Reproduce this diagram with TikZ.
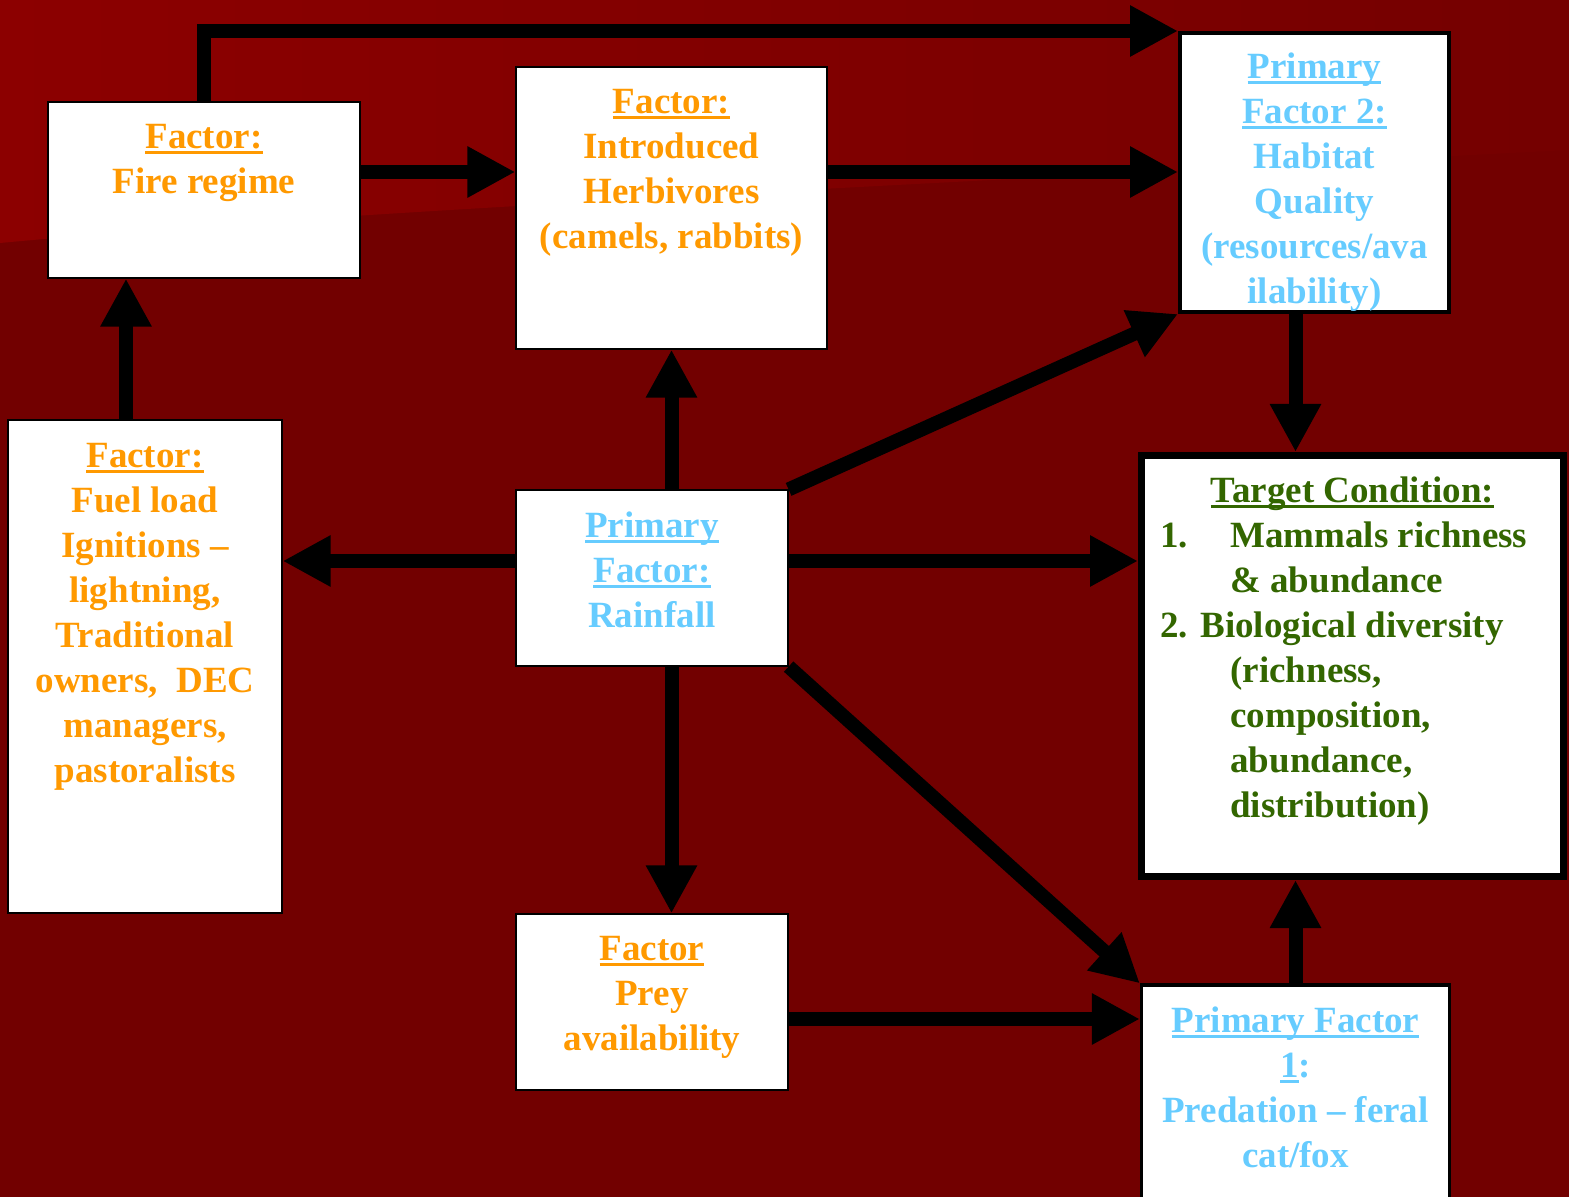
\documentclass[tikz,border=0pt]{standalone}
\usepackage{fontspec}
\setmainfont{Liberation Serif}
\usepackage{tikz}
\usetikzlibrary{arrows.meta, positioning}
\definecolor{bgred}{RGB}{114,0,0}
\definecolor{bglight}{RGB}{140,0,0}
\definecolor{factororange}{RGB}{255,153,0}
\definecolor{primaryblue}{RGB}{102,204,255}
\definecolor{targetgreen}{RGB}{51,102,0}
\newsavebox\ulbox
\newcommand{\ulin}[1]{\leavevmode\sbox\ulbox{#1}\rlap{\rule[-3pt]{\wd\ulbox}{1.5pt}}\usebox\ulbox}

\begin{document}
\begin{tikzpicture}[
    x=0.5pt, y=-0.5pt,
    box/.style={
      draw=black,
      fill=white,
      line width=0.6pt,
      inner sep=0pt
    },
    txt/.style={
      inner sep=0pt,
      align=center,
      font=\fontsize{18.5}{22.5}\selectfont\bfseries
    },
    factortxt/.style={txt, text=factororange},
    primarytxt/.style={txt, text=primaryblue},
    arr/.style={line width=7pt, -{Triangle[length=24pt, width=24pt]}}
  ]
    % background
    \fill[bgred] (0,0) rectangle (1569,1197);
    \shade[left color=bglight, right color=bgred!90!bglight]
      (0,0) -- (1569,0) -- (1569,150) .. controls (700,195) and (300,215) .. (0,243) -- cycle;
    \useasboundingbox (0,0) rectangle (1569,1197);

    % boxes
    \node[box, minimum width=156pt, minimum height=88pt] (fire) at (204,190) {};
    \node[box, minimum width=155.5pt, minimum height=141pt] (herb) at (671.5,208) {};
    \node[box, line width=2pt, minimum width=134.5pt, minimum height=139.5pt] (hab) at (1314.5,172.5) {};
    \node[box, minimum width=137pt, minimum height=246.5pt] (fuel) at (145,666.5) {};
    \node[box, minimum width=136pt, minimum height=88pt] (rain) at (652,578) {};
    \node[box, line width=3.5pt, minimum width=211pt, minimum height=210.5pt] (target) at (1352.5,666) {};
    \node[box, minimum width=136pt, minimum height=88pt] (prey) at (652,1002) {};
    \node[box, line width=1.6pt, minimum width=154pt, minimum height=108pt] (pred) at (1295.5,1093) {};

    % texts
    \node[factortxt, below=11pt of fire.north] (fire-t) {\ulin{Factor:}\\Fire regime};
    \node[factortxt, below=11pt of herb.north] (herb-t) {\ulin{Factor:}\\Introduced\\Herbivores\\(camels, rabbits)};
    \node[primarytxt, below=10.5pt of hab.north] (hab-t) {\ulin{Primary}\\\ulin{Factor 2:}\\Habitat\\Quality\\(resources/ava\\ilability)};
    \node[factortxt, below=11.5pt of fuel.north] (fuel-t) {\ulin{Factor:}\\Fuel load\\Ignitions --\\lightning,\\Traditional\\owners,~ DEC\\managers,\\pastoralists};
    \node[primarytxt, below=11pt of rain.north] (rain-t) {\ulin{Primary}\\\ulin{Factor:}\\Rainfall};
    \node[factortxt, below=11pt of prey.north] (prey-t) {\ulin{Factor}\\Prey\\availability};
    \node[primarytxt, below=11.5pt of pred.north] (pred-t) {\ulin{Primary Factor}\\\ulin{1}:\\Predation -- feral\\cat/fox};
    \node[txt, text=targetgreen, below=12pt of target.north] (tgt-title) {\ulin{Target Condition:}};
    \node[txt, text=targetgreen, align=left, anchor=north west] (tgt-list) at (1160,521)
      {\makebox[35pt][l]{1.}Mammals richness\\
       \hspace*{35pt}\& abundance\\
       2. Biological diversity\\
       \hspace*{35pt}(richness,\\
       \hspace*{35pt}composition,\\
       \hspace*{35pt}abundance,\\
       \hspace*{35pt}distribution)};

    % connectors
    \draw[arr] (fire.north) |- (hab.north west);
    \draw[arr] (fire.east |- 0,172) -- (herb.west |- 0,172);
    \draw[arr] (herb.east |- 0,172) -- (hab.west |- 0,172);
    \draw[arr] (fuel.north -| 126,0) -- (fire.south -| 126,0);
    \draw[arr] (rain.north -| herb.south) -- (herb.south);
    \draw[arr] (rain.west |- 0,561) -- (fuel.east |- 0,561);
    \draw[arr] (rain.east |- 0,561) -- (target.west |- 0,561);
    \draw[arr] (rain.north east) -- (hab.south west);
    \draw[arr] (rain.south -| herb.south) -- (prey.north -| herb.south);
    \draw[arr] (rain.south east) -- (pred.north west);
    \draw[arr] (prey.east |- 0,1019) -- (pred.west |- 0,1019);
    \draw[arr] (hab.south -| pred.north) -- (target.north -| pred.north);
    \draw[arr] (pred.north) -- (target.south -| pred.north);
  \end{tikzpicture}
\end{document}
